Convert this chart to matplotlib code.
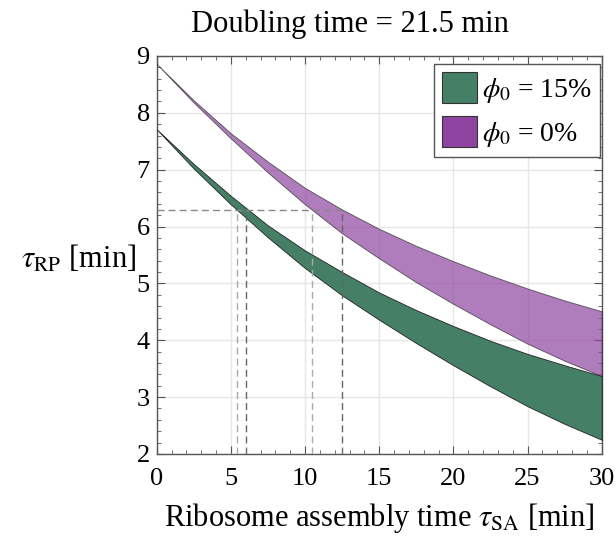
import numpy as np
import matplotlib
matplotlib.use("Agg")
import matplotlib.pyplot as plt
from matplotlib.patches import Patch
from matplotlib.ticker import MultipleLocator

# ribosome assembly time tau_SA [min]
tau_sa = [0, 2.5, 5, 7.5, 10, 12.5, 15, 17.5, 20, 22.5, 25, 27.5, 30]

# tau_RP band edges [min]
green_low = [7.71, 7.02, 6.39, 5.81, 5.27, 4.79, 4.36, 3.95, 3.56, 3.19, 2.84, 2.53, 2.25]
green_high = [7.71, 7.10, 6.54, 6.02, 5.58, 5.20, 4.84, 4.53, 4.25, 3.99, 3.76, 3.56, 3.37]
purple_low = [8.86, 8.18, 7.55, 6.95, 6.39, 5.88, 5.44, 5.02, 4.64, 4.28, 3.94, 3.64, 3.37]
purple_high = [8.86, 8.22, 7.64, 7.14, 6.68, 6.30, 5.96, 5.66, 5.39, 5.14, 4.91, 4.70, 4.51]

labels = [r"$\phi_0$ = 15%", r"$\phi_0$ = 0%"]

# reference lines
tau_rp_ref = 6.3
cross_light = [5.4, 10.47]
cross_dark = [6.0, 12.5]

green = "#447f66"
purple = "#8e44a0"

plt.rcParams["font.family"] = ["Liberation Serif", "DejaVu Serif"]
plt.rcParams["mathtext.fontset"] = "stix"

fig = plt.figure(figsize=(6.16, 5.40), dpi=100)
ax = fig.add_axes([0.2544, 0.1593, 0.7224, 0.7370])

ax.fill_between(tau_sa, green_low, green_high, facecolor=green,
                edgecolor="#222222", linewidth=0.6, zorder=3)
ax.fill_between(tau_sa, purple_low, purple_high, facecolor=purple, alpha=0.7,
                edgecolor="#222222", linewidth=0.6, zorder=3)

dash = (0, (5, 3))
ax.plot([0, max(cross_dark)], [tau_rp_ref, tau_rp_ref], ls=dash,
        color="#888888", lw=1.0, zorder=4)
for xc in cross_light:
    ax.plot([xc, xc], [2, tau_rp_ref], ls=dash, color="#aaaaaa", lw=1.0, zorder=4)
for xc in cross_dark:
    ax.plot([xc, xc], [2, tau_rp_ref], ls=dash, color="#666666", lw=1.0, zorder=4)

ax.set_xlim(0, 30)
ax.set_ylim(2, 9)
ax.xaxis.set_major_locator(MultipleLocator(5))
ax.xaxis.set_minor_locator(MultipleLocator(1))
ax.yaxis.set_major_locator(MultipleLocator(1))
ax.yaxis.set_minor_locator(MultipleLocator(0.2))
ax.grid(True, which="major", color="#e6e6e6", lw=1.0, zorder=0)
ax.set_axisbelow(True)
ax.tick_params(which="both", direction="in", top=True, right=True,
               colors="#555555", labelcolor="black", labelsize=19)
ax.tick_params(which="major", length=6, width=0.8)
ax.tick_params(which="minor", length=3, width=0.6)
ax.tick_params(axis="x", pad=10)
ax.tick_params(axis="y", pad=5)
for s in ax.spines.values():
    s.set_color("#555555")
    s.set_linewidth(1.0)

ax.set_xlabel(r"Ribosome assembly time $\tau_{\rm SA}$ [min]", fontsize=22,
              va="baseline")
ax.xaxis.set_label_coords(0.50, -0.181)
ax.set_ylabel(r"$\tau_{\rm RP}$ [min]", fontsize=22, rotation=0,
              ha="right", va="center")
ax.yaxis.set_label_coords(-0.047, 0.49)

fig.text(0.568, 0.955, "Doubling time = 21.5 min", fontsize=22,
         ha="center", va="center")

handles = [Patch(facecolor=green, edgecolor="#333333", lw=0.8),
           Patch(facecolor=purple, edgecolor="#333333", lw=0.8)]
leg = ax.legend(handles, labels, loc="upper right", bbox_to_anchor=(0.997, 0.98),
                fontsize=20, handlelength=1.25, handleheight=1.35,
                handletextpad=0.2, borderpad=0.3, labelspacing=0.4,
                fancybox=False, framealpha=1, borderaxespad=0)
leg.get_frame().set_edgecolor("#555555")
leg.get_frame().set_linewidth(1.0)

fig.savefig("out.png", dpi=100)
